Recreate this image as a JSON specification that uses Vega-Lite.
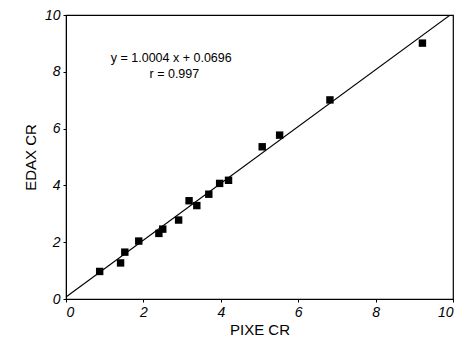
{
  "$schema": "https://vega.github.io/schema/vega-lite/v6.json",
  "autosize": "none",
  "width": 387,
  "height": 284,
  "padding": {"left": 66, "top": 15, "right": 21, "bottom": 40},
  "background": "white",
  "config": {
    "view": {"stroke": "black", "strokeWidth": 1.2},
    "font": "Liberation Sans",
    "axis": {
      "grid": false,
      "domainColor": "black",
      "tickColor": "black",
      "tickSize": 3,
      "labelFont": "Liberation Sans",
      "labelFontStyle": "italic",
      "labelFontSize": 14,
      "labelColor": "black",
      "titleFont": "Liberation Sans",
      "titleFontSize": 15,
      "titleFontWeight": "normal",
      "titleColor": "black"
    }
  },
  "datasets": {
    "points": [
      {"pixe": 0.87, "edax": 0.97},
      {"pixe": 1.41, "edax": 1.27},
      {"pixe": 1.52, "edax": 1.65},
      {"pixe": 1.88, "edax": 2.04},
      {"pixe": 2.40, "edax": 2.31},
      {"pixe": 2.50, "edax": 2.46},
      {"pixe": 2.91, "edax": 2.78},
      {"pixe": 3.18, "edax": 3.46},
      {"pixe": 3.38, "edax": 3.29},
      {"pixe": 3.69, "edax": 3.69},
      {"pixe": 3.97, "edax": 4.07},
      {"pixe": 4.20, "edax": 4.18},
      {"pixe": 5.07, "edax": 5.36},
      {"pixe": 5.52, "edax": 5.77},
      {"pixe": 6.82, "edax": 7.01},
      {"pixe": 9.21, "edax": 9.01}
    ],
    "fit": [
      {"pixe": 0, "edax": 0.0696},
      {"pixe": 10, "edax": 10.0736}
    ],
    "labels": [
      {"pixe": 2.72, "edax": 8.5, "label": "y  = 1.0004 x  + 0.0696"},
      {"pixe": 2.8, "edax": 7.92, "label": "r  = 0.997"}
    ]
  },
  "layer": [
    {
      "data": {"name": "fit"},
      "mark": {"type": "line", "color": "black", "strokeWidth": 1.1, "clip": true},
      "encoding": {
        "x": {"field": "pixe", "type": "quantitative", "scale": {"domain": [0, 10]}, "axis": {"title": "PIXE CR", "values": [0, 2, 4, 6, 8, 10], "labelPadding": 3, "titlePadding": 3}},
        "y": {"field": "edax", "type": "quantitative", "scale": {"domain": [0, 10]}, "axis": {"title": "EDAX CR", "values": [0, 2, 4, 6, 8, 10], "labelPadding": 3, "titlePadding": 6}}
      }
    },
    {
      "data": {"name": "points"},
      "mark": {"type": "square", "color": "black", "filled": true, "opacity": 1, "size": 55},
      "encoding": {
        "x": {"field": "pixe", "type": "quantitative"},
        "y": {"field": "edax", "type": "quantitative"}
      }
    },
    {
      "data": {"name": "labels"},
      "mark": {"type": "text", "fontSize": 12.5, "color": "black", "font": "Liberation Sans"},
      "encoding": {
        "x": {"field": "pixe", "type": "quantitative"},
        "y": {"field": "edax", "type": "quantitative"},
        "text": {"field": "label"}
      }
    }
  ]
}
